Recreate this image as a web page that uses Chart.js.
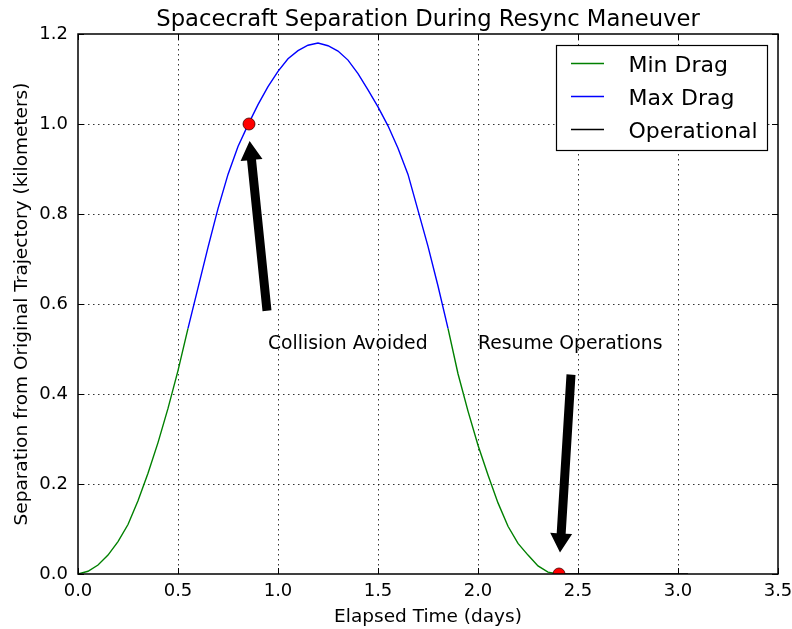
<!DOCTYPE html>
<html><head><meta charset="utf-8">
<script src="https://cdn.jsdelivr.net/npm/chart.js@4.4.1/dist/chart.umd.min.js"></script>
<style>html,body{margin:0;padding:0;background:#fff}canvas{display:block}</style>
</head><body>
<canvas id="c" width="792" height="629"></canvas>
<script>
// ---- data ----
const timeDays = [0.00,0.05,0.10,0.15,0.20,0.25,0.30,0.35,0.40,0.45,0.50,0.55,0.60,0.65,0.70,0.75,0.80,0.85,0.90,0.95,1.00,1.05,1.10,1.15,1.20,
                  1.25,1.30,1.35,1.40,1.45,1.50,1.55,1.60,1.65,1.70,1.75,1.80,1.85,1.90,1.95,2.00,2.05,2.10,2.15,2.20,2.25,2.30,2.35,2.40];
const separationKm = [0.000,0.006,0.020,0.042,0.072,0.110,0.163,0.224,0.292,0.368,0.452,0.546,0.636,0.726,0.812,0.888,0.950,0.998,1.043,1.083,1.117,1.145,1.163,1.175,1.180,
                      1.174,1.162,1.142,1.112,1.076,1.038,0.996,0.946,0.888,0.808,0.728,0.640,0.546,0.445,0.362,0.286,0.220,0.158,0.106,0.068,0.042,0.018,0.004,0.000];
const opsTime = [2.40,2.50,2.60,2.70,2.80,2.90,3.00,3.05];
const opsSep  = [0,0,0,0,0,0,0,0];
const eventTime = [0.855, 2.405];
const eventSep  = [1.00, 0.00];
const maxDragStart = 0.55, maxDragEnd = 1.85;
const xTicks = [0.0,0.5,1.0,1.5,2.0,2.5,3.0,3.5];
const yTicks = [0.0,0.2,0.4,0.6,0.8,1.0,1.2];
const seriesLabels = ['Min Drag','Max Drag','Operational'];
const seriesColors = ['#008000','#0000ff','#000000'];
const titleText = 'Spacecraft Separation During Resync Maneuver';
const xTitle = 'Elapsed Time (days)';
const yTitle = 'Separation from Original Trajectory (kilometers)';
const noteText  = ['Collision Avoided','Resume Operations'];
const noteX     = [0.95, 2.00];
const noteY     = [0.50, 0.50];
const arrowTailX = [0.945, 2.465];
const arrowTailY = [0.585, 0.443];
const arrowTipX  = [0.858, 2.410];
const arrowTipY  = [0.962, 0.048];

// ---- build datasets ----
const eps = 1e-9;
const minDrag = [], maxDrag = [];
timeDays.forEach((t,i)=>{
  if (t <= maxDragStart + eps) minDrag.push({x:t, y:separationKm[i]});
});
minDrag.push({x:(maxDragStart+maxDragEnd)/2, y:null});
timeDays.forEach((t,i)=>{
  if (t >= maxDragEnd - eps) minDrag.push({x:t, y:separationKm[i]});
  if (t >= maxDragStart - eps && t <= maxDragEnd + eps) maxDrag.push({x:t, y:separationKm[i]});
});
const ops = opsTime.map((t,i)=>({x:t, y:opsSep[i]}));
const events = eventTime.map((t,i)=>({x:t, y:eventSep[i]}));

const FONT = 'DejaVu Sans';

const decor = {
  id:'decor',
  beforeDatasetsDraw(chart){
    const {ctx, chartArea:a, scales:{x,y}} = chart;
    ctx.save();
    ctx.strokeStyle = '#000'; ctx.lineWidth = 0.8; ctx.setLineDash([1.5,3.5]);
    xTicks.forEach(v=>{
      const px = Math.round(x.getPixelForValue(v)) + 0.5;
      if (px <= a.left + 2 || px >= a.right - 2) return;
      ctx.beginPath(); ctx.moveTo(px, a.top); ctx.lineTo(px, a.bottom); ctx.stroke();
    });
    yTicks.forEach(v=>{
      const py = Math.round(y.getPixelForValue(v)) + 0.5;
      if (py <= a.top + 2 || py >= a.bottom - 2) return;
      ctx.beginPath(); ctx.moveTo(a.left, py); ctx.lineTo(a.right, py); ctx.stroke();
    });
    ctx.restore();
  },
  afterDatasetsDraw(chart){
    const {ctx, chartArea:a, scales:{x,y}} = chart;
    ctx.save();
    ctx.fillStyle = '#000';
    for (let i=0;i<arrowTailX.length;i++){
      const x0 = x.getPixelForValue(arrowTailX[i]), y0 = y.getPixelForValue(arrowTailY[i]);
      const x1 = x.getPixelForValue(arrowTipX[i]),  y1 = y.getPixelForValue(arrowTipY[i]);
      const dx = x1-x0, dy = y1-y0, L = Math.hypot(dx,dy);
      const ux = dx/L, uy = dy/L, nx = -uy, ny = ux;
      const sw = 4.5, hw = 11, hl = 19;
      const bx = x1 - ux*hl, by = y1 - uy*hl;
      ctx.beginPath();
      ctx.moveTo(x0 + nx*sw, y0 + ny*sw);
      ctx.lineTo(bx + nx*sw, by + ny*sw);
      ctx.lineTo(bx + nx*hw, by + ny*hw);
      ctx.lineTo(x1, y1);
      ctx.lineTo(bx - nx*hw, by - ny*hw);
      ctx.lineTo(bx - nx*sw, by - ny*sw);
      ctx.lineTo(x0 - nx*sw, y0 - ny*sw);
      ctx.closePath(); ctx.fill();
    }
    ctx.font = '18.8px "' + FONT + '"';
    ctx.textAlign = 'left'; ctx.textBaseline = 'alphabetic'; ctx.fillStyle = '#000';
    noteText.forEach((s,i)=> ctx.fillText(s, x.getPixelForValue(noteX[i]), y.getPixelForValue(noteY[i])));
    ctx.restore();
  },
  afterDraw(chart){
    const {ctx, chartArea:a, scales:{x,y}} = chart;
    ctx.save();
    ctx.strokeStyle = '#000'; ctx.lineWidth = 1;
    const tl = 6;
    xTicks.forEach(v=>{
      const px = Math.round(x.getPixelForValue(v)) + 0.5;
      ctx.beginPath(); ctx.moveTo(px, a.bottom); ctx.lineTo(px, a.bottom - tl);
      ctx.moveTo(px, a.top); ctx.lineTo(px, a.top + tl); ctx.stroke();
    });
    yTicks.forEach(v=>{
      const py = Math.round(y.getPixelForValue(v)) + 0.5;
      ctx.beginPath(); ctx.moveTo(a.left, py); ctx.lineTo(a.left + tl, py);
      ctx.moveTo(a.right, py); ctx.lineTo(a.right - tl, py); ctx.stroke();
    });
    ctx.lineWidth = 1.5;
    ctx.strokeRect(a.left, a.top, a.right - a.left, a.bottom - a.top);
    ctx.fillStyle = '#000';
    ctx.font = '22.7px "' + FONT + '"';
    ctx.textAlign = 'center'; ctx.textBaseline = 'alphabetic';
    ctx.fillText(titleText, (a.left + a.right)/2, 26);
    const lx = 556.5, ly = 45.5, lw = 211, lh = 105;
    ctx.fillStyle = '#fff'; ctx.fillRect(lx, ly, lw, lh);
    ctx.strokeStyle = '#000'; ctx.lineWidth = 1.2; ctx.strokeRect(lx, ly, lw, lh);
    ctx.font = '22px "' + FONT + '"'; ctx.textAlign = 'left';
    seriesLabels.forEach((s,i)=>{
      const cy = 63.5 + i*33;
      ctx.strokeStyle = seriesColors[i]; ctx.lineWidth = 1.5;
      ctx.beginPath(); ctx.moveTo(571, cy); ctx.lineTo(604, cy); ctx.stroke();
      ctx.fillStyle = '#000';
      ctx.fillText(s, 628.5, cy + 8);
    });
    ctx.restore();
  }
};

new Chart(document.getElementById('c'), {
  type:'line',
  data:{ datasets:[
    {label:'events', data:events, showLine:false, pointRadius:6, pointHoverRadius:6,
     pointBackgroundColor:'#ff0000', pointBorderColor:'#400000', pointBorderWidth:0.8, order:0},
    {label:seriesLabels[0], data:minDrag, borderColor:seriesColors[0], borderWidth:1.4, pointRadius:0, spanGaps:false, tension:0, order:3},
    {label:seriesLabels[1], data:maxDrag, borderColor:seriesColors[1], borderWidth:1.4, pointRadius:0, tension:0, order:2},
    {label:seriesLabels[2], data:ops, borderColor:seriesColors[2], borderWidth:1.6, pointRadius:0, tension:0, order:1}
  ]},
  options:{
    responsive:false, animation:false, devicePixelRatio:1,
    layout:{padding:{left:0, top:34, right:14, bottom:0}},
    plugins:{legend:{display:false}, tooltip:{enabled:false}, title:{display:false}},
    scales:{
      x:{type:'linear', min:0, max:3.5,
         afterBuildTicks:s=>{ s.ticks = xTicks.map(v=>({value:v})); },
         afterFit:s=>{ s.height = 55; s.paddingLeft = 0; s.paddingRight = 0; },
         grid:{display:false, drawTicks:false}, border:{display:false},
         ticks:{padding:7, color:'#000', font:{family:FONT, size:18}, maxRotation:0, callback:v=>Number(v).toFixed(1)},
         title:{display:true, text:xTitle, color:'#000', font:{family:FONT, size:18.5}, padding:{top:0,bottom:1}}},
      y:{type:'linear', min:0, max:1.2,
         afterBuildTicks:s=>{ s.ticks = yTicks.map(v=>({value:v})); },
         afterFit:s=>{ s.width = 78; s.paddingTop = 0; s.paddingBottom = 0; },
         grid:{display:false, drawTicks:false}, border:{display:false},
         ticks:{padding:10, color:'#000', font:{family:FONT, size:18}, callback:v=>Number(v).toFixed(1)},
         title:{display:true, text:yTitle, color:'#000', font:{family:FONT, size:18.5}, padding:{top:11,bottom:0}}}
    }
  },
  plugins:[decor]
});
</script>
</body></html>
